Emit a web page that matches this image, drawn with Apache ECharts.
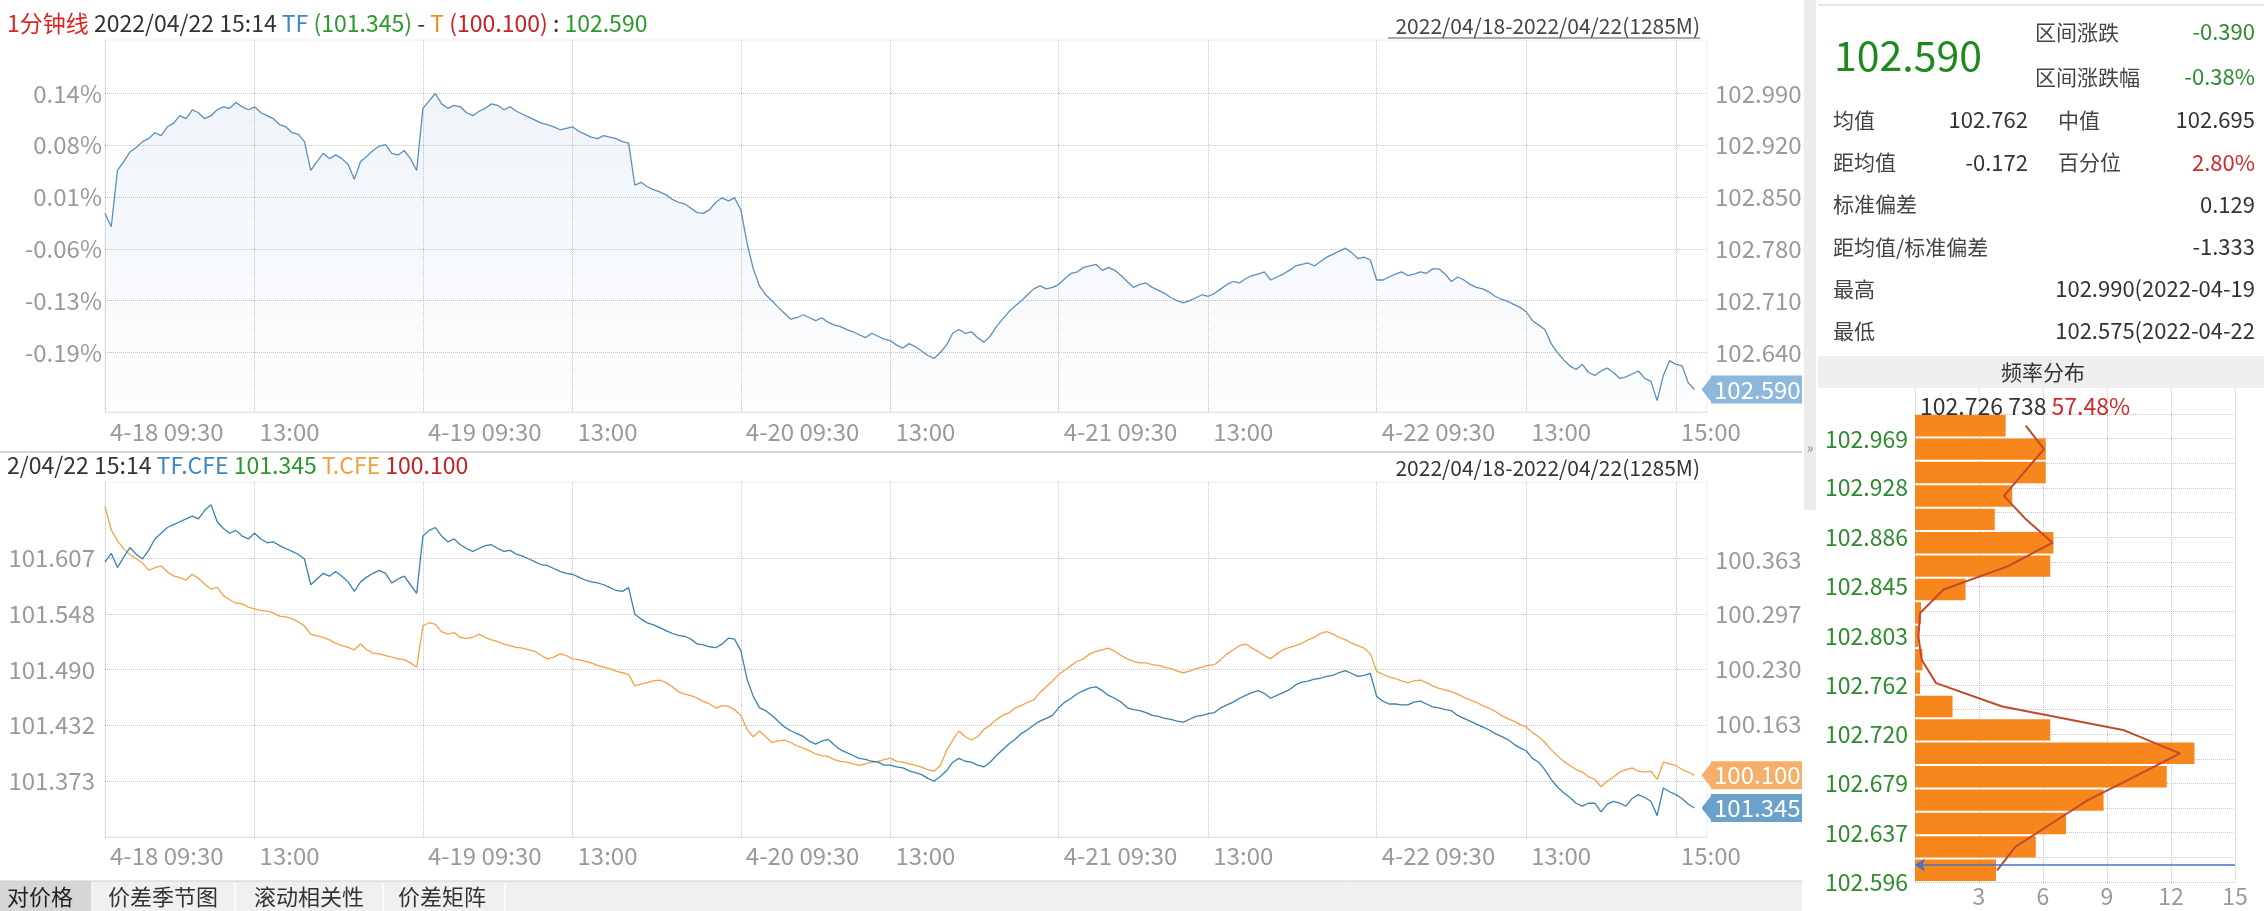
<!DOCTYPE html>
<html><head><meta charset="utf-8">
<script src="https://cdn.jsdelivr.net/npm/echarts@6/dist/echarts.min.js"></script>
<style>
html,body{margin:0;padding:0;background:#fff;overflow:hidden;}
#left{position:absolute;left:0;top:0;width:1802px;height:911px;}
#right{position:absolute;left:1802px;top:0;width:462px;height:911px;}
</style></head><body><div id="left"></div><div id="right"></div>
<script>
// ---------------- data ----------------
const days = ['4-18','4-19','4-20','4-21','4-22'];
// spread = TF*2 - T (5-minute samples)
const spreadD1 = [102.828,102.810,102.886,102.898,102.911,102.917,102.925,102.929,102.937,102.933,102.945,102.950,102.960,102.956,102.968,102.964,102.956,102.960,102.968,102.972,102.970,102.978,102.972,102.968,102.972,102.964,102.960,102.956,102.948,102.945,102.937,102.935,102.925,102.886,102.898,102.909,102.902,102.907,102.902,102.894,102.874,102.898,102.905,102.913,102.919,102.921,102.909,102.907,102.913,102.902,102.886];
const spreadD2 = [102.970,102.980,102.990,102.976,102.970,102.974,102.972,102.964,102.960,102.966,102.970,102.976,102.974,102.968,102.972,102.966,102.962,102.958,102.954,102.950,102.948,102.945,102.941,102.943,102.945,102.939,102.935,102.931,102.929,102.933,102.931,102.929,102.925,102.923,102.866,102.870,102.864,102.860,102.857,102.853,102.847,102.843,102.841,102.835,102.829,102.828,102.833,102.843,102.849,102.845,102.849];
const spreadD3 = [102.833,102.788,102.753,102.730,102.718,102.710,102.701,102.693,102.685,102.687,102.691,102.687,102.683,102.687,102.681,102.677,102.675,102.671,102.668,102.664,102.660,102.666,102.662,102.658,102.656,102.650,102.646,102.652,102.648,102.642,102.636,102.632,102.640,102.650,102.666,102.671,102.666,102.668,102.660,102.654,102.662,102.675,102.685,102.695,102.703,102.710,102.718,102.726,102.730,102.726,102.728];
const spreadD4 = [102.732,102.740,102.747,102.749,102.755,102.757,102.759,102.751,102.755,102.751,102.744,102.736,102.728,102.732,102.734,102.728,102.724,102.720,102.714,102.710,102.707,102.710,102.714,102.718,102.716,102.720,102.726,102.732,102.736,102.734,102.740,102.744,102.746,102.749,102.738,102.742,102.746,102.751,102.757,102.759,102.761,102.757,102.763,102.769,102.773,102.777,102.781,102.775,102.767,102.769,102.765];
const spreadD5 = [102.738,102.738,102.742,102.746,102.749,102.744,102.746,102.749,102.747,102.753,102.753,102.746,102.736,102.742,102.738,102.732,102.728,102.726,102.722,102.716,102.712,102.709,102.705,102.701,102.695,102.683,102.677,102.671,102.652,102.640,102.630,102.622,102.617,102.624,102.613,102.609,102.615,102.619,102.613,102.605,102.607,102.611,102.615,102.605,102.601,102.575,102.609,102.629,102.624,102.622,102.599,102.590];

const tfD1 = [101.603,101.612,101.597,101.608,101.618,101.611,101.606,101.615,101.627,101.633,101.639,101.642,101.645,101.648,101.651,101.648,101.657,101.663,101.645,101.638,101.633,101.636,101.630,101.627,101.633,101.627,101.623,101.624,101.620,101.617,101.614,101.611,101.606,101.579,101.585,101.591,101.588,101.593,101.588,101.582,101.572,101.582,101.587,101.591,101.594,101.591,101.581,101.585,101.588,101.579,101.570];
const tfD2 = [101.630,101.636,101.639,101.630,101.624,101.627,101.621,101.617,101.614,101.617,101.620,101.621,101.617,101.614,101.615,101.611,101.609,101.606,101.603,101.600,101.599,101.596,101.593,101.591,101.590,101.587,101.584,101.582,101.581,101.579,101.576,101.573,101.572,101.576,101.548,101.543,101.539,101.537,101.534,101.531,101.528,101.526,101.525,101.522,101.517,101.516,101.514,101.513,101.517,101.523,101.522];
const tfD3 = [101.510,101.480,101.462,101.450,101.447,101.442,101.436,101.430,101.426,101.423,101.420,101.415,101.412,101.415,101.417,101.411,101.406,101.403,101.400,101.397,101.396,101.394,101.393,101.390,101.390,101.388,101.387,101.384,101.382,101.380,101.376,101.373,101.378,101.384,101.393,101.397,101.394,101.393,101.390,101.388,101.393,101.400,101.406,101.412,101.417,101.423,101.427,101.432,101.436,101.439,101.442];
const tfD4 = [101.450,101.456,101.460,101.465,101.468,101.471,101.472,101.468,101.463,101.460,101.456,101.450,101.448,101.447,101.445,101.442,101.441,101.439,101.438,101.436,101.435,101.438,101.441,101.442,101.444,101.445,101.450,101.453,101.456,101.460,101.463,101.466,101.468,101.465,101.460,101.463,101.466,101.469,101.474,101.477,101.478,101.480,101.481,101.483,101.484,101.487,101.489,101.486,101.483,101.484,101.486];
const tfD5 = [101.462,101.457,101.454,101.454,101.453,101.453,101.456,101.457,101.454,101.451,101.450,101.448,101.447,101.442,101.439,101.436,101.433,101.430,101.427,101.423,101.420,101.417,101.412,101.408,101.405,101.397,101.393,101.385,101.375,101.367,101.361,101.356,101.350,101.347,101.350,101.350,101.341,101.349,101.352,101.350,101.347,101.355,101.359,101.356,101.352,101.337,101.366,101.362,101.359,101.355,101.349,101.345];

const tD1 = [100.428,100.399,100.386,100.376,100.369,100.364,100.359,100.350,100.353,100.355,100.348,100.343,100.341,100.338,100.345,100.340,100.333,100.327,100.329,100.319,100.314,100.310,100.309,100.305,100.303,100.301,100.300,100.298,100.294,100.293,100.291,100.287,100.282,100.272,100.270,100.268,100.265,100.261,100.258,100.256,100.253,100.260,100.253,100.249,100.248,100.246,100.244,100.242,100.241,100.237,100.232];
const tD2 = [100.282,100.286,100.284,100.275,100.272,100.274,100.268,100.267,100.268,100.272,100.268,100.265,100.263,100.260,100.258,100.256,100.255,100.253,100.251,100.246,100.242,100.244,100.248,100.246,100.242,100.241,100.239,100.237,100.234,100.232,100.230,100.227,100.225,100.223,100.209,100.211,100.213,100.215,100.216,100.213,100.208,100.202,100.199,100.197,100.194,100.190,100.187,100.182,100.185,100.184,100.180];
const tD3 = [100.173,100.156,100.147,100.154,100.147,100.140,100.142,100.143,100.140,100.136,100.133,100.130,100.126,100.124,100.123,100.119,100.117,100.116,100.114,100.112,100.114,100.116,100.117,100.119,100.121,100.117,100.116,100.114,100.112,100.110,100.107,100.105,100.112,100.130,100.143,100.154,100.147,100.143,100.147,100.156,100.161,100.168,100.173,100.176,100.182,100.185,100.189,100.192,100.201,100.208,100.215];
const tD4 = [100.223,100.228,100.234,100.239,100.242,100.248,100.251,100.253,100.255,100.251,100.246,100.242,100.239,100.237,100.237,100.235,100.234,100.232,100.230,100.227,100.225,100.227,100.230,100.232,100.234,100.235,100.241,100.248,100.253,100.258,100.260,100.255,100.251,100.246,100.242,100.248,100.253,100.256,100.258,100.261,100.265,100.268,100.273,100.275,100.272,100.268,100.265,100.261,100.258,100.255,100.248];
const tD5 = [100.227,100.223,100.220,100.218,100.215,100.213,100.215,100.216,100.213,100.209,100.206,100.204,100.202,100.199,100.195,100.192,100.189,100.185,100.182,100.178,100.173,100.169,100.166,100.162,100.159,100.152,100.147,100.140,100.131,100.124,100.117,100.112,100.107,100.104,100.098,100.095,100.086,100.093,100.098,100.104,100.107,100.109,100.105,100.104,100.105,100.095,100.116,100.114,100.112,100.107,100.104,100.100];

// axis ticks
const spreadTicks = [102.640,102.710,102.780,102.850,102.920,102.990];
const spreadPctLabels = ['-0.19%','-0.13%','-0.06%','0.01%','0.08%','0.14%'];
const tfTicks = [101.373,101.432,101.490,101.548,101.607];
const tTicks = [100.163,100.230,100.297,100.363];

// histogram (bins bottom -> top), percent
const histBinStart = 102.575, histBinEnd = 102.990, histBinCount = 20;
const histCounts = [3.8,5.66,7.08,8.84,11.8,13.1,6.34,1.76,0.24,0.35,0.16,0.28,2.37,6.34,6.49,3.74,4.56,6.13,6.13,4.25];
const histCurve  = [3.85,4.7,6.4,8.1,10.3,12.42,9.75,4.09,0.99,0.31,0.16,0.24,1.34,4.37,6.45,5.2,4.17,5.1,6.05,5.19];
const histLabels = ['102.596','102.637','102.679','102.720','102.762','102.803','102.845','102.886','102.928','102.969'];
const histXTicks = [3,6,9,12,15];
const lastSpread = 102.590, lastTF = 101.345, lastT = 100.100;

const statsRows = [
  ['均值','102.762','中值','102.695'],
  ['距均值','-0.172','百分位','2.80%'],
  ['标准偏差','','','0.129'],
  ['距均值/标准偏差','','','-1.333'],
  ['最高','','','102.990(2022-04-19'],
  ['最低','','','102.575(2022-04-22']
];

// ---------------- build ----------------
const F = "'Noto Sans CJK SC','Noto Sans',sans-serif";
function hm(m){return String(Math.floor(m/60)).padStart(2,'0')+':'+String(m%60).padStart(2,'0');}
const categories = [];
days.forEach(d=>{
  for(let k=0;k<24;k++) categories.push(d+' '+hm(570+5*k));
  for(let k=0;k<27;k++) categories.push(d+' '+hm(780+5*k));
});
categories.push('4-22 15:14','4-22 15:20','4-22 15:25');
const spread = [].concat(spreadD1,spreadD2,spreadD3,spreadD4,spreadD5,[null,null]);
const tf = [].concat(tfD1,tfD2,tfD3,tfD4,tfD5,[null,null]);
const tt = [].concat(tD1,tD2,tD3,tD4,tD5,[null,null]);

function isTick(i){
  if(i>=255) return false;
  const j=i%51;
  return j===0||j===24||(i===204+48);
}
function xLabel(v,i){const j=i%51;return j===0?v:v.split(' ')[1];}
const arrowPath='path://M0,0L10,0L5,10Z';
function tag(color,val){
  return {silent:true,animation:false,precision:3,symbol:['none',arrowPath],symbolSize:[28,11],
    lineStyle:{color:color,width:0,type:'solid'},
    label:{position:'end',distance:4,formatter:p=>Number(p.value).toFixed(3),backgroundColor:color,color:'#fff',
      fontSize:24,fontFamily:F,padding:[0,8,0,3],lineHeight:28},
    data:[{yAxis:val}]};
}
const AX=24;
function xAxisCfg(gi,margin){
  return {type:'category',gridIndex:gi,data:categories,boundaryGap:false,
    axisLine:{show:true,lineStyle:{color:'#e4e4e4'}},axisTick:{show:false},
    axisLabel:{interval:isTick,formatter:xLabel,color:'#9a9a9a',fontSize:AX,fontFamily:F,align:'left',margin:margin,padding:[0,0,0,5],hideOverlap:false},
    splitLine:{show:true,interval:isTick,lineStyle:{type:'dotted',color:'#c4c4c4'}}};
}
const dotted={type:'dotted',color:'#c4c4c4'};
const yLab={color:'#9a9a9a',fontSize:AX,fontFamily:F};
function rs(c,s){return {color:c,fontSize:s,fontFamily:F};}

const left = echarts.init(document.getElementById('left'));
left.setOption({
  animation:false,
  title:[
    {left:7,top:12,padding:0,text:'{r|1分钟线} {k|2022/04/22 15:14} {b|TF} {g|(101.345)} {k|-} {o|T} {d|(100.100)} {k|:} {g|102.590}',
      textStyle:{fontSize:23,fontFamily:F,fontWeight:'normal',
        rich:{r:rs('#e02424',23),k:rs('#333',23),b:rs('#3d87c4',23),g:rs('#2a9a2a',23),o:rs('#f08c28',23),d:rs('#c82020',23)}}},
    {left:7,top:454,padding:0,text:'{k|2/04/22 15:14} {b|TF.CFE} {g|101.345} {o|T.CFE} {d|100.100}',
      textStyle:{fontSize:23,fontFamily:F,fontWeight:'normal',
        rich:{k:rs('#333',23),b:rs('#3d87c4',23),g:rs('#2a9a2a',23),o:rs('#f0a040',23),d:rs('#c82020',23)}}}
  ],
  grid:[{left:105,right:95,top:40,height:372,outerBoundsMode:'none',show:true,borderColor:'#eeeeee',borderWidth:1},
        {left:105,right:95,top:482,height:355,outerBoundsMode:'none',show:true,borderColor:'#eeeeee',borderWidth:1}],
  xAxis:[xAxisCfg(0,8),xAxisCfg(1,7)],
  yAxis:[
    {type:'value',gridIndex:0,position:'right',min:102.5596,max:103.0623,
      axisLine:{show:false},axisTick:{show:false,customValues:spreadTicks},
      axisLabel:Object.assign({customValues:spreadTicks,margin:8,formatter:v=>v.toFixed(3)},yLab),
      splitLine:{show:true,lineStyle:dotted}},
    {type:'value',gridIndex:0,position:'left',min:102.5596,max:103.0623,
      axisLine:{show:false},axisTick:{show:false,customValues:spreadTicks},
      axisLabel:Object.assign({customValues:spreadTicks,margin:3,formatter:v=>{
        const k=spreadTicks.findIndex(t=>Math.abs(t-v)<1e-6);return k<0?'':spreadPctLabels[k];}},yLab),
      splitLine:{show:false}},
    {type:'value',gridIndex:1,position:'left',min:101.3146,max:101.6867,
      axisLine:{show:false},axisTick:{show:false,customValues:tfTicks},
      axisLabel:Object.assign({customValues:tfTicks,margin:10,formatter:v=>v.toFixed(3)},yLab),
      splitLine:{show:true,lineStyle:dotted}},
    {type:'value',gridIndex:1,position:'right',min:100.0248,max:100.4575,
      axisLine:{show:false},axisTick:{show:false,customValues:tTicks},
      axisLabel:Object.assign({customValues:tTicks,margin:8,formatter:v=>v.toFixed(3)},yLab),
      splitLine:{show:false}}
  ],
  series:[
    {type:'line',name:'spread',xAxisIndex:0,yAxisIndex:0,data:spread,showSymbol:false,
      lineStyle:{color:'#5a8fbd',width:1.3},
      areaStyle:{color:new echarts.graphic.LinearGradient(0,0,0,1,[{offset:0,color:'rgba(120,160,205,0.16)'},{offset:1,color:'rgba(120,160,205,0.03)'}])},
      markLine:tag('#8db8dc',lastSpread)},
    {type:'line',name:'T.CFE',xAxisIndex:1,yAxisIndex:3,data:tt,showSymbol:false,
      lineStyle:{color:'#f2a247',width:1.3},markLine:tag('#f4b06a',lastT)},
    {type:'line',name:'TF.CFE',xAxisIndex:1,yAxisIndex:2,data:tf,showSymbol:false,
      lineStyle:{color:'#3b82b0',width:1.3},markLine:tag('#6aa2cb',lastTF)}
  ],
  graphic:[
    {type:'text',x:1700,y:26,style:{text:'2022/04/18-2022/04/22(1285M)',fill:'#444',fontSize:21,fontFamily:F,align:'right',verticalAlign:'middle'}},
    {type:'line',shape:{x1:1388,y1:38,x2:1700,y2:38},style:{stroke:'#555',lineWidth:1}},
    {type:'line',shape:{x1:0,y1:452,x2:1802,y2:452},style:{stroke:'#c8c8c8',lineWidth:1.5}},
    {type:'text',x:1700,y:468,style:{text:'2022/04/18-2022/04/22(1285M)',fill:'#333',fontSize:21,fontFamily:F,align:'right',verticalAlign:'middle'}},
    {type:'rect',shape:{x:0,y:881,width:1802,height:30},style:{fill:'#f0f0f0'}},
    {type:'rect',shape:{x:0,y:881,width:91,height:30},style:{fill:'#d6d6d6'}},
    {type:'line',shape:{x1:0,y1:881,x2:1802,y2:881},style:{stroke:'#cfcfcf',lineWidth:1}},
    {type:'line',shape:{x1:235,y1:883,x2:235,y2:911},style:{stroke:'#ffffff',lineWidth:1.5}},
    {type:'line',shape:{x1:383,y1:883,x2:383,y2:911},style:{stroke:'#ffffff',lineWidth:1.5}},
    {type:'line',shape:{x1:505,y1:883,x2:505,y2:911},style:{stroke:'#ffffff',lineWidth:1.5}},
    {type:'text',x:7,y:897,style:{text:'对价格',fill:'#222',fontSize:22,fontFamily:F,verticalAlign:'middle'}},
    {type:'text',x:108,y:897,style:{text:'价差季节图',fill:'#333',fontSize:22,fontFamily:F,verticalAlign:'middle'}},
    {type:'text',x:254,y:897,style:{text:'滚动相关性',fill:'#333',fontSize:22,fontFamily:F,verticalAlign:'middle'}},
    {type:'text',x:398,y:897,style:{text:'价差矩阵',fill:'#333',fontSize:22,fontFamily:F,verticalAlign:'middle'}}
  ]
});

// ---------------- right panel ----------------
const binW = (histBinEnd-histBinStart)/histBinCount;
const barData = histCounts.map((c,i)=>[c,histBinStart+i*binW,histBinStart+(i+1)*binW]);
const curveData = histCurve.map((c,i)=>[c,histBinStart+(i+0.5)*binW]);
const labelVals = histLabels.map(Number);
const labelLineVals = [];
for(let k=0;k<20;k++) labelLineVals.push(labelVals[0]+k*(histBinEnd-labelVals[0])/19);

const G='#2e8b2e';
const statTexts=[];
statsRows.forEach((r,i)=>{
  const y=120+i*42.2;
  statTexts.push({type:'text',x:31,y:y,style:{text:r[0],fill:'#444',fontSize:21,fontFamily:F,verticalAlign:'middle'}});
  if(r[1]) statTexts.push({type:'text',x:226,y:y,style:{text:r[1],fill:'#333',fontSize:22,fontFamily:F,align:'right',verticalAlign:'middle'}});
  if(r[2]) statTexts.push({type:'text',x:256,y:y,style:{text:r[2],fill:'#444',fontSize:21,fontFamily:F,verticalAlign:'middle'}});
  statTexts.push({type:'text',x:453,y:y,style:{text:r[3],fill:r[3]==='2.80%'?'#d42828':'#333',fontSize:22,fontFamily:F,align:'right',verticalAlign:'middle'}});
});

const right = echarts.init(document.getElementById('right'));
right.setOption({
  animation:false,
  title:{left:118,top:395,padding:0,z:0,text:'{k|102.726 738} {r|57.48%}',
    textStyle:{fontSize:23,fontFamily:F,fontWeight:'normal',rich:{k:rs('#333',23),r:rs('#d42828',23)}}},
  grid:{left:113,right:29,top:389,bottom:29,outerBoundsMode:'none'},
  xAxis:{type:'value',min:0,max:15,interval:3,axisLine:{show:false},axisTick:{show:false},
    axisLabel:{color:'#9a9a9a',fontSize:23,fontFamily:F,margin:3,formatter:v=>histXTicks.indexOf(v)>=0?String(v):''},
    splitLine:{show:true,lineStyle:dotted}},
  yAxis:[
    {type:'value',min:histBinStart,max:103.0122,show:false},
    {type:'value',min:labelVals[0],max:103.011,position:'left',axisLine:{show:false},
      axisTick:{show:false,customValues:labelLineVals},
      axisLabel:{customValues:labelVals,color:G,fontSize:23,fontFamily:F,margin:7,formatter:v=>{
        const k=labelVals.findIndex(t=>Math.abs(t-v)<1e-6);return k<0?'':histLabels[k];}},
      splitLine:{show:true,lineStyle:dotted}}
  ],
  series:[
    {type:'custom',xAxisIndex:0,yAxisIndex:0,data:barData,encode:{x:0,y:[1,2]},z:3,
      renderItem:(params,api)=>{
        const c=api.value(0),lo=api.value(1),hi=api.value(2);
        const p0=api.coord([0,hi]),p1=api.coord([c,lo]);
        return {type:'rect',shape:{x:p0[0],y:p0[1]+1,width:p1[0]-p0[0],height:p1[1]-p0[1]-2},style:{fill:'#f7861c'}};
      }},
    {type:'line',xAxisIndex:0,yAxisIndex:0,data:curveData,showSymbol:false,z:4,
      lineStyle:{color:'#c04a2c',width:2},
      markLine:{silent:true,animation:false,precision:3,symbol:['arrow','none'],symbolSize:10,label:{show:false},
        lineStyle:{color:'#4473c4',width:1.5,type:'solid'},
        data:[[{coord:[0,lastSpread]},{coord:[15,lastSpread]}]]}}
  ],
  graphic:[
    {type:'rect',shape:{x:2,y:0,width:12,height:510},style:{fill:'#ececec'}},
    {type:'text',x:8,y:448,style:{text:'»',fill:'#888',fontSize:14,fontFamily:F,align:'center',verticalAlign:'middle'}},
    {type:'line',shape:{x1:16,y1:5,x2:462,y2:5},style:{stroke:'#e6e6e6',lineWidth:2}},
    {type:'text',x:32,y:55,style:{text:'102.590',fill:'#1e8a1e',fontSize:41,fontFamily:F,verticalAlign:'middle'}},
    {type:'text',x:233,y:32,style:{text:'区间涨跌',fill:'#444',fontSize:21,fontFamily:F,verticalAlign:'middle'}},
    {type:'text',x:453,y:32,style:{text:'-0.390',fill:G,fontSize:22,fontFamily:F,align:'right',verticalAlign:'middle'}},
    {type:'text',x:233,y:77,style:{text:'区间涨跌幅',fill:'#444',fontSize:21,fontFamily:F,verticalAlign:'middle'}},
    {type:'text',x:453,y:77,style:{text:'-0.38%',fill:G,fontSize:22,fontFamily:F,align:'right',verticalAlign:'middle'}},
    ...statTexts,
    {type:'rect',shape:{x:16,y:356,width:446,height:32},style:{fill:'#efefef'}},
    {type:'text',x:241,y:372,style:{text:'频率分布',fill:'#333',fontSize:21,fontFamily:F,align:'center',verticalAlign:'middle'}}
  ]
});
</script></body></html>
